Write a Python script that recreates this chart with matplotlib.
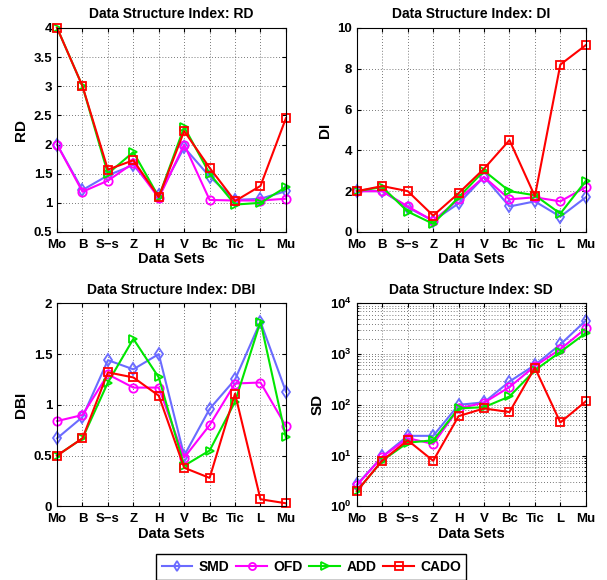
import numpy as np
import matplotlib
matplotlib.use("Agg")
import matplotlib.pyplot as plt
from matplotlib.ticker import LogLocator, FuncFormatter, NullFormatter

plt.rcParams['font.family'] = ['Liberation Sans', 'DejaVu Sans']
plt.rcParams['font.weight'] = 'bold'
plt.rcParams['mathtext.fontset'] = 'custom'
plt.rcParams['mathtext.bf'] = 'Liberation Sans:bold'
plt.rcParams['mathtext.rm'] = 'Liberation Sans:bold'

datasets = ["Mo", "B", "S\u2212s", "Z", "H", "V", "Bc", "Tic", "L", "Mu"]
methods = ["SMD", "OFD", "ADD", "CADO"]

# RD index
rd_smd = [2.0, 1.22, 1.47, 1.65, 1.13, 1.95, 1.45, 1.05, 1.07, 1.20]
rd_ofd = [2.0, 1.19, 1.38, 1.68, 1.08, 2.00, 1.05, 1.04, 1.04, 1.07]
rd_add = [4.0, 3.00, 1.50, 1.87, 1.10, 2.30, 1.50, 0.97, 1.00, 1.27]
rd_cado = [4.0, 3.00, 1.57, 1.73, 1.10, 2.23, 1.60, 1.03, 1.29, 2.45]

# DI index
di_smd = [2.0, 2.0, 1.2, 0.55, 1.4, 2.7, 1.25, 1.5, 0.75, 1.7]
di_ofd = [2.0, 2.0, 1.25, 0.55, 1.6, 2.7, 1.6, 1.7, 1.5, 2.2]
di_add = [2.0, 2.2, 1.0, 0.40, 1.7, 3.0, 2.0, 1.8, 0.9, 2.5]
di_cado = [2.0, 2.25, 2.0, 0.80, 1.9, 3.1, 4.5, 1.75, 8.2, 9.15]

# DBI index
dbi_smd = [0.67, 0.88, 1.44, 1.35, 1.50, 0.50, 0.96, 1.25, 1.82, 1.13]
dbi_ofd = [0.84, 0.90, 1.30, 1.17, 1.17, 0.48, 0.80, 1.21, 1.22, 0.79]
dbi_add = [0.50, 0.67, 1.22, 1.65, 1.27, 0.40, 0.55, 1.03, 1.82, 0.68]
dbi_cado = [0.50, 0.67, 1.32, 1.27, 1.09, 0.38, 0.28, 1.11, 0.07, 0.03]

# SD index
sd_smd = [2.7, 9.6, 24.5, 24.5, 100, 112, 288, 610, 1550, 4570]
sd_ofd = [2.6, 9.5, 22, 17, 85, 110, 224, 580, 1250, 3200]
sd_add = [2.0, 8.0, 18, 20, 85, 90, 146, 480, 1100, 2600]
sd_cado = [2.0, 8.0, 20, 7.9, 60, 85, 72, 540, 45, 117]

colors = ["#6b6bff", "#ff00ff", "#00e600", "#ff0000"]
markers = ["d", "o", ">", "s"]

panels = [
    ("RD", [rd_smd, rd_ofd, rd_add, rd_cado], (0.5, 4), [0.5, 1, 1.5, 2, 2.5, 3, 3.5, 4], False),
    ("DI", [di_smd, di_ofd, di_add, di_cado], (0, 10), [0, 2, 4, 6, 8, 10], False),
    ("DBI", [dbi_smd, dbi_ofd, dbi_add, dbi_cado], (0, 2), [0, 0.5, 1, 1.5, 2], False),
    ("SD", [sd_smd, sd_ofd, sd_add, sd_cado], (1, 1e4), None, True),
]

positions = [
    [0.094, 0.600, 0.377, 0.352],
    [0.588, 0.600, 0.377, 0.352],
    [0.094, 0.127, 0.377, 0.350],
    [0.588, 0.127, 0.377, 0.350],
]

fig = plt.figure(figsize=(6.07, 5.8), dpi=100)
x = np.arange(1, len(datasets) + 1)
handles = []
gridstyle = dict(ls=(0, (1, 2.5)), color="k", lw=0.6, alpha=0.7)

for (name, series, ylim, yticks, logy), pos in zip(panels, positions):
    ax = fig.add_axes(pos)
    for vals, c, m, lab in zip(series, colors, markers, methods):
        h, = ax.plot(x, vals, color=c, marker=m, markersize=6, lw=1.5,
                     markerfacecolor="none", markeredgecolor=c,
                     markeredgewidth=1.3, label=lab, clip_on=False, zorder=3)
        if len(handles) < 4:
            handles.append(h)
    ax.set_xlim(1, 10)
    ax.set_xticks(x)
    ax.set_xticklabels(datasets)
    if logy:
        ax.set_yscale("log")
        ax.set_ylim(*ylim)
        ax.yaxis.set_major_locator(LogLocator(base=10, numticks=10))
        ax.yaxis.set_minor_locator(LogLocator(base=10, subs=np.arange(2, 10), numticks=20))
        ax.yaxis.set_major_formatter(FuncFormatter(lambda v, p: r"$\mathbf{10^{%d}}$" % round(np.log10(v))))
        ax.yaxis.set_minor_formatter(NullFormatter())
        ax.grid(True, which="both", axis="y", **gridstyle)
        ax.grid(True, which="major", axis="x", **gridstyle)
    else:
        ax.set_ylim(*ylim)
        ax.set_yticks(yticks)
        ax.set_yticklabels(["%g" % t for t in yticks])
        ax.grid(True, **gridstyle)
    ax.tick_params(direction="in", top=True, right=True, labelsize=9.5, length=3)
    ax.tick_params(axis="x", pad=5)
    ax.tick_params(which="minor", direction="in", right=True, length=1.5)
    for lbl in ax.get_xticklabels() + ax.get_yticklabels():
        lbl.set_fontweight("bold")
    ax.set_title("Data Structure Index: " + name, fontsize=10, fontweight="bold", pad=7)
    ax.set_xlabel("Data Sets", fontsize=10.5, fontweight="bold", labelpad=1)
    ax.set_ylabel(name, fontsize=11, fontweight="bold")
    for sp in ax.spines.values():
        sp.set_linewidth(0.8)
        sp.set_zorder(4)

fig.legend(handles, methods, loc="center", bbox_to_anchor=(0.513, 0.0225), ncol=4,
           frameon=True, fancybox=False, edgecolor="k", framealpha=1,
           prop={"weight": "bold", "size": 10}, handlelength=2.2,
           columnspacing=0.5, handletextpad=0.45, borderpad=0.4, markerscale=0.85)

fig.savefig("out.png", dpi=100)
